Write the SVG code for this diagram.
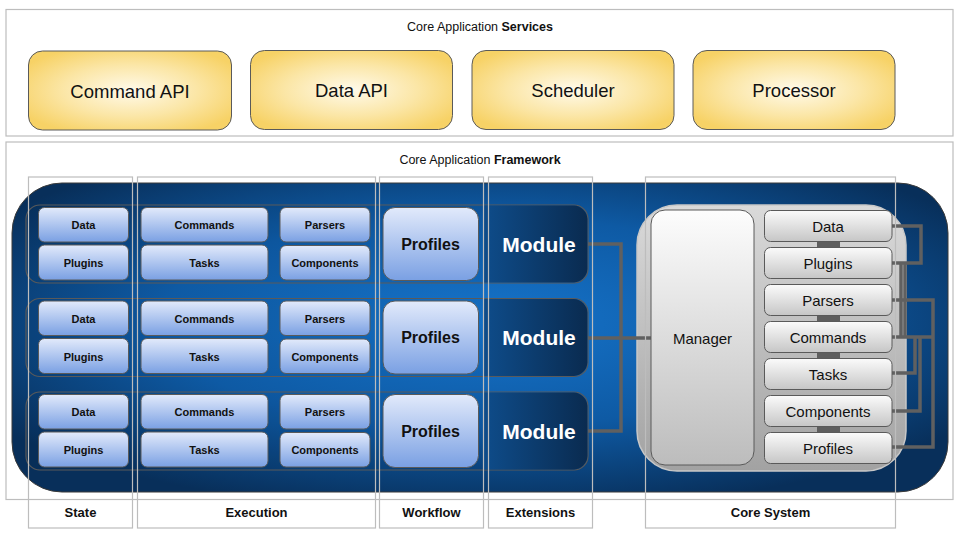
<svg xmlns="http://www.w3.org/2000/svg" width="960" height="540" viewBox="0 0 960 540">
<style>
  .frame{fill:#fff;stroke:#bdbdbd;stroke-width:1.2}
  .col{fill:none;stroke:#bdbdbd;stroke-width:1.2}
  .title{font-family:"Liberation Sans",Arial,sans-serif;font-size:12.5px;fill:#111}
  .svc{fill:url(#gold);stroke:#5a5a5a;stroke-width:1}
  .svct{font-family:"Liberation Sans",Arial,sans-serif;font-size:18.5px;fill:#111;text-anchor:middle;dominant-baseline:central}
  .row{fill:rgba(0,30,70,0.06);stroke:#5a5a5a;stroke-width:1.2}
  .mod{fill:url(#modg)}
  .blu{fill:url(#blueBox);stroke:#5a5a5a;stroke-width:1}
  .bt{font-family:"Liberation Sans",Arial,sans-serif;font-size:11px;font-weight:bold;fill:#111;text-anchor:middle;dominant-baseline:central}
  .pt{font-family:"Liberation Sans",Arial,sans-serif;font-size:16px;font-weight:bold;fill:#111;text-anchor:middle;dominant-baseline:central}
  .mt{font-family:"Liberation Sans",Arial,sans-serif;font-size:21px;font-weight:bold;fill:#fff;text-anchor:middle;dominant-baseline:central}
  .gry{fill:url(#greyBox);stroke:#5a5a5a;stroke-width:1}
  .gt{font-family:"Liberation Sans",Arial,sans-serif;font-size:15px;fill:#111;text-anchor:middle;dominant-baseline:central}
  .lbl{font-family:"Liberation Sans",Arial,sans-serif;font-size:13px;font-weight:bold;fill:#111;text-anchor:middle;dominant-baseline:central}
  .wire{fill:none;stroke:#606060;stroke-width:3.5}
  .bar{fill:#5e5e5e}
</style>
<defs>
  <radialGradient id="gold" cx="0.5" cy="0.5" r="0.6">
    <stop offset="0" stop-color="#fffaea"/>
    <stop offset="0.55" stop-color="#fbe6a6"/>
    <stop offset="1" stop-color="#f7d266"/>
  </radialGradient>
  <radialGradient id="bigBlue" cx="0.5" cy="0.45" r="0.62">
    <stop offset="0" stop-color="#1674cb"/>
    <stop offset="0.55" stop-color="#0e5aa4"/>
    <stop offset="1" stop-color="#082f5a"/>
  </radialGradient>
  <linearGradient id="modg" x1="0" y1="0" x2="1" y2="0">
    <stop offset="0" stop-color="#0e4c8a"/>
    <stop offset="1" stop-color="#0a2b50"/>
  </linearGradient>
  <linearGradient id="blueBox" x1="0" y1="0" x2="0" y2="1">
    <stop offset="0" stop-color="#e2eafb"/>
    <stop offset="1" stop-color="#7aa0e3"/>
  </linearGradient>
  <linearGradient id="greyBox" x1="0" y1="0" x2="0" y2="1">
    <stop offset="0" stop-color="#fbfbfb"/>
    <stop offset="1" stop-color="#c6c6c6"/>
  </linearGradient>
  <linearGradient id="coreG" x1="0" y1="0" x2="0" y2="1">
    <stop offset="0" stop-color="#dadada"/>
    <stop offset="1" stop-color="#a2a2a2"/>
  </linearGradient>
  <linearGradient id="mgrG" x1="0" y1="0" x2="0" y2="1">
    <stop offset="0" stop-color="#fdfdfd"/>
    <stop offset="1" stop-color="#bcbcbc"/>
  </linearGradient>
</defs>

<!-- Services -->
<g id="services">
  <rect class="frame" x="6" y="9.5" width="947" height="126.5"/>
  <text class="title" x="480" y="27" text-anchor="middle" dominant-baseline="central">Core Application <tspan font-weight="bold">Services</tspan></text>
</g>
<g id="command-api"><rect class="svc" x="28.5" y="51" width="203" height="79" rx="14"/><text class="svct" x="130" y="91">Command API</text></g>
<g id="data-api"><rect class="svc" x="250.5" y="50.5" width="202" height="79" rx="14"/><text class="svct" x="351.5" y="90.5">Data API</text></g>
<g id="scheduler"><rect class="svc" x="472" y="50.5" width="202" height="79" rx="14"/><text class="svct" x="573" y="90.5">Scheduler</text></g>
<g id="processor"><rect class="svc" x="693" y="50.5" width="202" height="79" rx="14"/><text class="svct" x="794" y="90.5">Processor</text></g>

<!-- Framework -->
<g id="framework">
  <rect class="frame" x="6" y="142" width="947" height="357.5"/>
  <text class="title" x="480" y="160" text-anchor="middle" dominant-baseline="central">Core Application <tspan font-weight="bold">Framework</tspan></text>
  <rect x="12" y="183" width="936" height="309" rx="50" fill="url(#bigBlue)" stroke="#3a3a3a" stroke-width="1"/>
</g>

<!-- Rows -->
<g id="row1">
  <rect class="row" x="26" y="205" width="562" height="78" rx="14"/>
  <path class="mod" d="M484,205.6 H574 A14,14 0 0 1 587.4,219 V269 A14,14 0 0 1 574,282.4 H484 Z"/>
  <g id="r1-data"><rect class="blu" x="38.5" y="207.5" width="90" height="34.5" rx="6"/><text class="bt" x="83.5" y="225">Data</text></g>
  <g id="r1-plugins"><rect class="blu" x="38.5" y="245" width="90" height="35" rx="6"/><text class="bt" x="83.5" y="263">Plugins</text></g>
  <g id="r1-commands"><rect class="blu" x="141" y="207.5" width="127" height="34.5" rx="6"/><text class="bt" x="204.5" y="225">Commands</text></g>
  <g id="r1-tasks"><rect class="blu" x="141" y="245" width="127" height="35" rx="6"/><text class="bt" x="204.5" y="263">Tasks</text></g>
  <g id="r1-parsers"><rect class="blu" x="280" y="207.5" width="90" height="34.5" rx="6"/><text class="bt" x="325" y="225">Parsers</text></g>
  <g id="r1-components"><rect class="blu" x="280" y="245.5" width="90" height="34.5" rx="6"/><text class="bt" x="325" y="263">Components</text></g>
  <g id="r1-profiles"><rect class="blu" x="383" y="207.5" width="95.5" height="73" rx="12"/><text class="pt" x="430.5" y="244">Profiles</text></g>
  <g id="r1-module"><text class="mt" x="539" y="244">Module</text></g>
</g>
<g id="row2" transform="translate(0,93.5)">
  <rect class="row" x="26" y="205" width="562" height="78" rx="14"/>
  <path class="mod" d="M484,205.6 H574 A14,14 0 0 1 587.4,219 V269 A14,14 0 0 1 574,282.4 H484 Z"/>
  <g id="r2-data"><rect class="blu" x="38.5" y="207.5" width="90" height="34.5" rx="6"/><text class="bt" x="83.5" y="225">Data</text></g>
  <g id="r2-plugins"><rect class="blu" x="38.5" y="245" width="90" height="35" rx="6"/><text class="bt" x="83.5" y="263">Plugins</text></g>
  <g id="r2-commands"><rect class="blu" x="141" y="207.5" width="127" height="34.5" rx="6"/><text class="bt" x="204.5" y="225">Commands</text></g>
  <g id="r2-tasks"><rect class="blu" x="141" y="245" width="127" height="35" rx="6"/><text class="bt" x="204.5" y="263">Tasks</text></g>
  <g id="r2-parsers"><rect class="blu" x="280" y="207.5" width="90" height="34.5" rx="6"/><text class="bt" x="325" y="225">Parsers</text></g>
  <g id="r2-components"><rect class="blu" x="280" y="245.5" width="90" height="34.5" rx="6"/><text class="bt" x="325" y="263">Components</text></g>
  <g id="r2-profiles"><rect class="blu" x="383" y="207.5" width="95.5" height="73" rx="12"/><text class="pt" x="430.5" y="244">Profiles</text></g>
  <g id="r2-module"><text class="mt" x="539" y="244">Module</text></g>
</g>
<g id="row3" transform="translate(0,187)">
  <rect class="row" x="26" y="205" width="562" height="78" rx="14"/>
  <path class="mod" d="M484,205.6 H574 A14,14 0 0 1 587.4,219 V269 A14,14 0 0 1 574,282.4 H484 Z"/>
  <g id="r3-data"><rect class="blu" x="38.5" y="207.5" width="90" height="34.5" rx="6"/><text class="bt" x="83.5" y="225">Data</text></g>
  <g id="r3-plugins"><rect class="blu" x="38.5" y="245" width="90" height="35" rx="6"/><text class="bt" x="83.5" y="263">Plugins</text></g>
  <g id="r3-commands"><rect class="blu" x="141" y="207.5" width="127" height="34.5" rx="6"/><text class="bt" x="204.5" y="225">Commands</text></g>
  <g id="r3-tasks"><rect class="blu" x="141" y="245" width="127" height="35" rx="6"/><text class="bt" x="204.5" y="263">Tasks</text></g>
  <g id="r3-parsers"><rect class="blu" x="280" y="207.5" width="90" height="34.5" rx="6"/><text class="bt" x="325" y="225">Parsers</text></g>
  <g id="r3-components"><rect class="blu" x="280" y="245.5" width="90" height="34.5" rx="6"/><text class="bt" x="325" y="263">Components</text></g>
  <g id="r3-profiles"><rect class="blu" x="383" y="207.5" width="95.5" height="73" rx="12"/><text class="pt" x="430.5" y="244">Profiles</text></g>
  <g id="r3-module"><text class="mt" x="539" y="244">Module</text></g>
</g>

<!-- Core System -->
<g id="core-system">
  <rect x="637" y="205" width="269" height="266" rx="40" fill="url(#coreG)" stroke="#c8c8c8" stroke-width="1.5"/>
  <rect class="bar" x="817" y="240" width="23" height="9"/>
  <rect class="bar" x="817" y="314" width="23" height="9"/>
  <rect class="bar" x="817" y="351" width="23" height="9"/>
  <rect class="bar" x="817" y="425" width="23" height="9"/>
</g>

<!-- Connectors -->
<g id="connectors">
  <path class="wire" d="M588,244 H621 V431 H588"/>
  <path class="wire" d="M588,338 H651"/>
  <path class="wire" d="M892,226 H921 V263 H892"/>
  <path class="wire" d="M901,263 V337"/>
  <path class="wire" d="M905,263 V337"/>
  <path class="wire" d="M892,300 H933 V447 H892"/>
  <path class="wire" d="M892,337 H933"/>
  <path class="wire" d="M915,337 V373 H892"/>
  <path class="wire" d="M920,337 V411 H892"/>
</g>

<g id="manager"><rect x="651" y="210" width="103" height="255" rx="14" fill="url(#mgrG)" stroke="#5a5a5a" stroke-width="1"/><text class="gt" x="702.5" y="338" font-size="16">Manager</text></g>
<g id="cs-data"><rect class="gry" x="764.5" y="210.5" width="127.5" height="31" rx="6"/><text class="gt" x="828" y="226">Data</text></g>
<g id="cs-plugins"><rect class="gry" x="764.5" y="247.5" width="127.5" height="31" rx="6"/><text class="gt" x="828" y="263">Plugins</text></g>
<g id="cs-parsers"><rect class="gry" x="764.5" y="284.5" width="127.5" height="31" rx="6"/><text class="gt" x="828" y="300">Parsers</text></g>
<g id="cs-commands"><rect class="gry" x="764.5" y="321.5" width="127.5" height="31" rx="6"/><text class="gt" x="828" y="337">Commands</text></g>
<g id="cs-tasks"><rect class="gry" x="764.5" y="358.5" width="127.5" height="31" rx="6"/><text class="gt" x="828" y="374">Tasks</text></g>
<g id="cs-components"><rect class="gry" x="764.5" y="395.5" width="127.5" height="31" rx="6"/><text class="gt" x="828" y="411">Components</text></g>
<g id="cs-profiles"><rect class="gry" x="764.5" y="432.5" width="127.5" height="31" rx="6"/><text class="gt" x="828" y="448">Profiles</text></g>

<!-- Columns -->
<g id="columns">
  <rect class="col" x="28.5" y="177" width="104" height="351"/>
  <rect class="col" x="137.5" y="177" width="238" height="351"/>
  <rect class="col" x="379.5" y="177" width="104" height="351"/>
  <rect class="col" x="488.5" y="177" width="104" height="351"/>
  <rect class="col" x="645.5" y="177" width="250" height="351"/>
  <text class="lbl" x="80.5" y="512">State</text>
  <text class="lbl" x="256.5" y="512">Execution</text>
  <text class="lbl" x="431.5" y="512">Workflow</text>
  <text class="lbl" x="540.5" y="512">Extensions</text>
  <text class="lbl" x="770.5" y="512">Core System</text>
</g>
</svg>
